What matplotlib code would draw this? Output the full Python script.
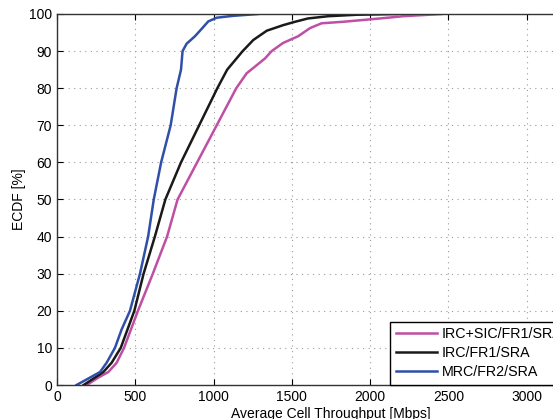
import matplotlib
matplotlib.use('Agg')
from matplotlib import pyplot as plt

# ECDF curves (throughput in Mbps, ECDF in %)
mrc_x = [125, 211, 275, 317, 370, 413, 466, 530, 582, 618, 665, 726, 764, 792, 798, 802, 828, 881, 924, 966, 1020, 1124, 1284]
mrc_y = [0, 2, 3.5, 6, 10, 15, 20, 30, 40, 50, 60, 70, 80, 85, 88, 90, 92, 94, 96, 98, 99, 99.5, 100]

irc_x = [170, 243, 296, 349, 407, 494, 553, 625, 692, 792, 908, 1024, 1087, 1186, 1254, 1340, 1445, 1520, 1603, 1731, 1914, 2169]
irc_y = [0, 2, 3.5, 6, 10, 20, 30, 40, 50, 60, 70, 80, 85, 90, 93, 95.5, 97, 97.9, 98.8, 99.4, 99.8, 100]

sic_x = [190, 264, 328, 381, 428, 517, 612, 703, 770, 895, 1020, 1145, 1211, 1328, 1371, 1444, 1540, 1616, 1690, 1827, 2063, 2210, 2457]
sic_y = [0, 2, 3.5, 6, 10, 20, 30, 40, 50, 60, 70, 80, 84, 88, 90, 92.2, 94, 96.2, 97.5, 97.9, 98.8, 99.4, 100]

labels = ['IRC+SIC/FR1/SRA', 'IRC/FR1/SRA', 'MRC/FR2/SRA']
colors = ['#bf4fa4', '#1a1a1a', '#2f4fa8']

plt.rcParams['font.family'] = ['Liberation Sans', 'DejaVu Sans']

fig = plt.figure(figsize=(5.53, 4.19), dpi=100)
ax = fig.add_axes([57 / 553, 34 / 419, 548 / 553, 371 / 419])

ax.plot(sic_x, sic_y, color=colors[0], lw=1.8, label=labels[0])
ax.plot(irc_x, irc_y, color=colors[1], lw=1.8, label=labels[1])
ax.plot(mrc_x, mrc_y, color=colors[2], lw=1.8, label=labels[2])

ax.set_xlim(0, 3500)
ax.set_ylim(0, 100)
ax.set_xticks(range(0, 3501, 500))
ax.set_yticks(range(0, 101, 10))
ax.grid(True, linestyle=(0, (1, 4)), color='#999999', lw=0.8)
ax.tick_params(direction='in', top=True, right=True, labelsize=10, length=4)
for s in ax.spines.values():
    s.set_color('#333333')
    s.set_linewidth(1.0)

ax.set_xlabel('Average Cell Throughput [Mbps]', fontsize=10, labelpad=2)
ax.set_ylabel('ECDF [%]', fontsize=10, labelpad=2)

leg = ax.legend(loc='lower left', bbox_to_anchor=((390 - 57) / 548, 0), fontsize=10.3,
                fancybox=False, framealpha=1, edgecolor='black', borderaxespad=0,
                handlelength=2.9, handletextpad=0.3, labelspacing=0.35, borderpad=0.4)
leg.get_frame().set_linewidth(1.0)

fig.savefig('out.png', dpi=100)
